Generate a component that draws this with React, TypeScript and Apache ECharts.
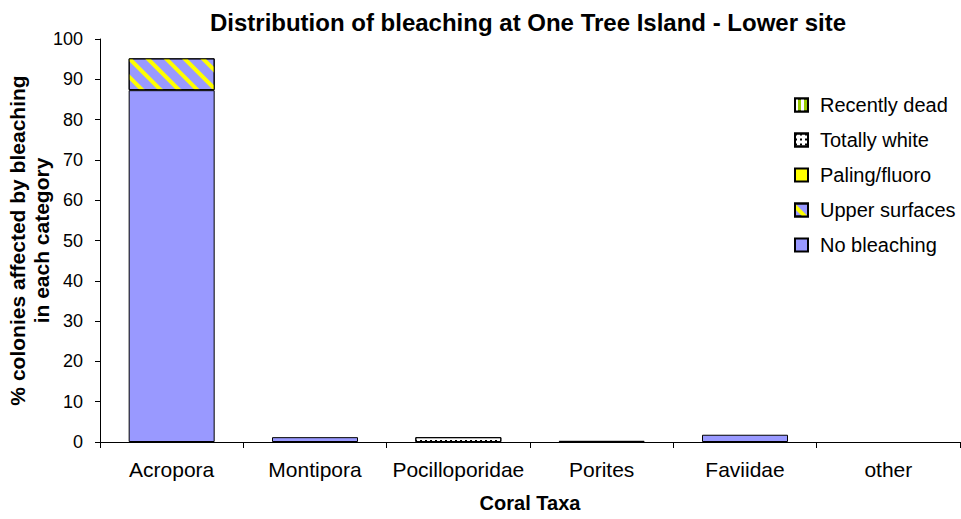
import React, { useEffect, useRef } from "react";
import * as echarts from "echarts";

const categories = ["Acropora", "Montipora", "Pocilloporidae", "Porites", "Faviidae", "other"];
const noBleaching = [87.3, 1.2, null, 0.3, 1.8, null];
const upperSurfaces = [7.9, null, null, null, null, null];
const palingFluoro = [null, null, null, null, null, null];
const totallyWhite = [null, null, 1.2, null, null, null];
const recentlyDead = [null, null, null, null, null, null];
const yTicks = { min: 0, max: 100, interval: 10 };

const FONT = "'Liberation Sans', Arial, sans-serif";

export default function App() {
  const ref = useRef<HTMLDivElement>(null);
  useEffect(() => {
    if (!ref.current) return;
    const chart = echarts.init(ref.current, undefined, { renderer: "svg" });
    const border = { borderColor: "#000", borderWidth: 1 };
    const mk = (name: string, data: (number | null)[], itemStyle: any) => ({
      name,
      type: "bar",
      stack: "all",
      data,
      barCategoryGap: "40%",
      itemStyle: { ...border, ...itemStyle },
      emphasis: { disabled: true },
    });
    chart.setOption({
      animation: false,
      backgroundColor: "#fff",
      textStyle: { fontFamily: FONT },
      title: {
        text: "Distribution of bleaching at One Tree Island - Lower site",
        left: 523,
        textAlign: "center",
        top: 5,
        textStyle: { fontSize: 24, fontWeight: "bold", color: "#000", fontFamily: FONT },
      },
      legend: {
        orient: "vertical",
        left: 789,
        top: 90,
        itemWidth: 13,
        itemHeight: 13,
        itemGap: 15,
        icon: "rect",
        textStyle: { fontSize: 20, color: "#000", fontFamily: FONT, padding: [0, 0, 0, 7] },
        data: ["Recently dead", "Totally white", "Paling/fluoro", "Upper surfaces", "No bleaching"],
      },
      grid: { left: 100, right: 1, top: 39, bottom: 77, containLabel: false, outerBoundsMode: "none" },
      xAxis: {
        type: "category",
        data: categories,
        name: "Coral Taxa",
        nameLocation: "middle",
        nameGap: 51,
        nameMoveOverlap: false,
        nameTextStyle: { fontSize: 20, fontWeight: "bold", color: "#000", fontFamily: FONT },
        axisLine: { lineStyle: { color: "#000", width: 1 } },
        axisTick: { show: true, length: 6, lineStyle: { color: "#000" } },
        axisLabel: { interval: 0, fontSize: 21, color: "#000", margin: 17, fontFamily: FONT },
      },
      yAxis: {
        type: "value",
        min: yTicks.min,
        max: yTicks.max,
        interval: yTicks.interval,
        name: "% colonies affected by bleaching\nin each category",
        nameLocation: "middle",
        nameGap: 47,
        nameRotate: 90,
        nameMoveOverlap: false,
        nameTextStyle: { fontSize: 21, fontWeight: "bold", color: "#000", fontFamily: FONT, lineHeight: 24 },
        axisLine: { show: true, lineStyle: { color: "#000", width: 1 } },
        axisTick: { show: true, length: 5, lineStyle: { color: "#000" } },
        splitLine: { show: false },
        axisLabel: { fontSize: 18, color: "#000", margin: 17, fontFamily: FONT },
      },
      series: [
        mk("No bleaching", noBleaching, { color: "#9999ff" }),
        mk("Upper surfaces", upperSurfaces, {
          color: "#9999ff",
          decal: {
            symbol: "rect",
            symbolSize: 1,
            color: "#ffff00",
            dashArrayX: [1, 0],
            dashArrayY: [4, 9],
            rotation: Math.PI / 4,
          },
        }),
        mk("Paling/fluoro", palingFluoro, { color: "#ffff00" }),
        mk("Totally white", totallyWhite, {
          color: "#ffffff",
          decal: {
            symbol: "rect",
            symbolSize: 1,
            color: "#000",
            dashArrayX: [2, 3],
            dashArrayY: [2, 3],
            rotation: 0,
          },
        }),
        mk("Recently dead", recentlyDead, {
          color: "#99cc00",
          decal: {
            symbol: "rect",
            symbolSize: 1,
            color: "#ffffff",
            dashArrayX: [3, 3],
            dashArrayY: [1, 0],
            rotation: 0,
          },
        }),
      ],
    });
    return () => chart.dispose();
  }, []);
  return <div ref={ref} style={{ width: 961, height: 519, position: "absolute", left: 0, top: 0 }} />;
}
